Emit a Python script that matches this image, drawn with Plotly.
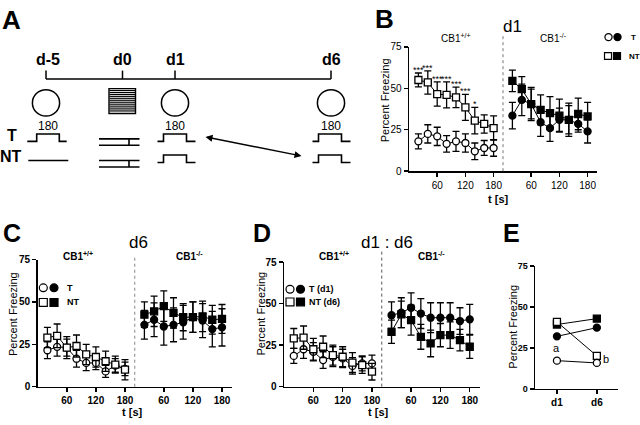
import plotly.graph_objects as go

W, H = 640, 425
FONT = "Liberation Sans, Arial, Helvetica, sans-serif"

# ---------------- data ----------------
t_s = [20, 40, 60, 80, 100, 120, 140, 160, 180]
KO_OFFSET = 200
x_tickvals = [60, 120, 180, 260, 320, 380]
x_ticktext = ["60", "120", "180", "60", "120", "180"]
y_tickvals = [0, 25, 50, 75]
y_ticktext = ["0", "25", "50", "75"]

# Panel B (d1)
B_WT_T = [18, 22.5, 21, 16.5, 18, 17, 12, 14, 14]
B_WT_T_err = [4.5, 5.5, 5.5, 5, 6, 5.5, 5, 4.5, 5]
B_WT_NT = [55, 53.5, 46.5, 46, 44.5, 38.5, 30.5, 28.5, 26]
B_WT_NT_err = [4.2, 7, 7.3, 7.8, 6.2, 7.8, 8, 5.5, 7.3]
B_KO_T = [33.5, 43, 40.5, 29.5, 26, 31, 31, 28.5, 24]
B_KO_T_err = [8, 9.5, 9, 8.5, 8, 7, 8.5, 5, 7]
B_KO_NT = [54.5, 49.5, 40.5, 37, 35, 33.5, 31, 34.5, 33]
B_KO_NT_err = [6.5, 7.5, 10, 9, 10, 10, 10, 9.5, 8.5]
B_stars = ["***", "***", "***", "***", "***", "***", "*", "", ""]

# Panel C (d6)
C_WT_T = [21.5, 23.5, 23, 16.5, 14, 14, 9, 12.5, 10.5]
C_WT_T_err = [5, 5.5, 5, 5, 4.5, 4, 3.5, 4, 4]
C_WT_NT = [29, 30, 23, 24, 19, 17.5, 15, 13, 10]
C_WT_NT_err = [6, 7, 6.5, 6.5, 6, 6, 6, 5, 6]
C_KO_T = [36.5, 39.5, 35.5, 36.5, 38, 41, 39, 34, 35]
C_KO_T_err = [8.5, 10, 11, 10, 10, 9, 10, 10.5, 11]
C_KO_NT = [42.5, 44.5, 47.5, 43.5, 41, 41, 41.5, 39.5, 40]
C_KO_NT_err = [7.5, 9, 9, 9, 8, 9, 9, 8.5, 8.5]

# Panel D (d1 : d6)
D_WT_T = [18.5, 22.5, 21, 16, 18, 17, 12.5, 14, 14]
D_WT_T_err = [4.5, 5.5, 5.5, 5, 6, 5.5, 5, 4.5, 5]
D_WT_NT = [29, 29.5, 22.5, 24, 19, 18, 14.5, 13, 9]
D_WT_NT_err = [6, 7, 6.5, 6.5, 6, 6, 6, 5, 5]
D_KO_T = [43, 44.5, 47.5, 44, 41.5, 41.5, 41.5, 39.5, 40.5]
D_KO_T_err = [8, 9, 9, 9, 9, 9, 9, 8, 9]
D_KO_NT = [33, 43.5, 40, 30, 26, 31, 31, 28, 24]
D_KO_NT_err = [7, 8, 9, 7.5, 8, 7, 8, 6.5, 7]

# Panel E
E_days = ["d1", "d6"]
E_WT_T = [17.2, 15.8]
E_WT_NT = [40.8, 20.1]
E_KO_T = [32, 37.3]
E_KO_NT = [39.2, 42.8]


# ---------------- helpers ----------------
def fx(p):
    return p / W


def fy(p):
    return 1 - p / H


fig = go.Figure()
shapes = []
annotations = []


def add_series(ax, x, y, err, symbol, filled):
    fig.add_trace(go.Scatter(
        x=x, y=y, xaxis="x" + ax, yaxis="y" + ax, mode="lines+markers",
        line=dict(color="black", width=1),
        marker=dict(symbol=symbol, size=7, color="black" if filled else "white",
                    line=dict(color="black", width=1.3)),
        error_y=dict(type="data", array=err, visible=True, color="black",
                     thickness=1.3, width=3.5) if err is not None else None,
        showlegend=False, hoverinfo="skip", cliponaxis=False))


def ko(ts):
    return [t + KO_OFFSET for t in ts]


def ptext(x, y, text, size, bold=False, xanchor="center", angle=0, yanchor="middle"):
    annotations.append(dict(
        x=fx(x), y=fy(y), xref="paper", yref="paper", text=("<b>%s</b>" % text) if bold else text,
        showarrow=False, xanchor=xanchor, yanchor=yanchor, textangle=angle, borderpad=0,
        font=dict(family=FONT, size=size, color="black")))


def pline(x0, y0, x1, y1, w=1.5, color="black", dash=None):
    ln = dict(color=color, width=w)
    if dash:
        ln["dash"] = dash
    shapes.append(dict(type="line", xref="paper", yref="paper",
                       x0=fx(x0), y0=fy(y0), x1=fx(x1), y1=fy(y1), line=ln))


def ppath(points, w=1.5):
    path = "M " + " L ".join("%f,%f" % (fx(x), fy(y)) for x, y in points)
    shapes.append(dict(type="path", xref="paper", yref="paper", path=path,
                       line=dict(color="black", width=w)))


def pcircle(cx, cy, r, filled=False, w=1.5):
    shapes.append(dict(type="circle", xref="paper", yref="paper",
                       x0=fx(cx - r), x1=fx(cx + r), y0=fy(cy + r), y1=fy(cy - r),
                       line=dict(color="black", width=w),
                       fillcolor="black" if filled else "white"))


def prect(x0, y0, x1, y1, filled=False, w=1.2):
    shapes.append(dict(type="rect", xref="paper", yref="paper",
                       x0=fx(x0), x1=fx(x1), y0=fy(y1), y1=fy(y0),
                       line=dict(color="black", width=w),
                       fillcolor="black" if filled else "white"))


def pulse(cx, base, top, w=1.6):
    ppath([(cx - 18, base), (cx - 12, base), (cx - 12, top), (cx + 11, top),
           (cx + 11, base), (cx + 20, base)], w)


# ---------------- panel A (schematic) ----------------
ptext(11, 14, "A", 26, bold=True)
pline(46, 75, 331, 75, 1.5)
for xx, lab in [(46, "d-5"), (122.5, "d0"), (175, "d1"), (331, "d6")]:
    pline(xx, 66.5, xx, 75, 1.5)
    ptext(xx + (2 if lab == "d-5" else 0), 55, lab, 16, bold=True)
for xx in [46, 175, 331]:
    pcircle(xx, 99.7, 13.6)
    ptext(xx + 2 if xx == 46 else xx, 123, "180", 12)
# shock box with stripes
prect(109, 85, 135.5, 110.7, w=1.4)
yy = 87.0
while yy < 110:
    pline(109.5, yy, 135, yy, 1.2)
    yy += 2.1
ptext(11.5, 133.5, "T", 16, bold=True)
ptext(11, 155, "NT", 16, bold=True)
# T row
ppath([(27.3, 139.3), (36.7, 139.3), (36.7, 131.7), (59.3, 131.7), (59.3, 139.3), (66.7, 139.3)], 1.6)
pulse(175.5, 139.3, 131.7)
pulse(330.5, 139.3, 131.7)
# NT row
pline(28.3, 159, 68.3, 159, 1.6)
pulse(175.5, 161, 153.3)
pulse(330.5, 161, 153.3)
# shocks
for y1, y2 in [(136.7, 143.3), (159, 165.7)]:
    pline(99, y1, 139.5, y1, 1.6)
    pline(99, y2, 139.5, y2, 1.6)
    pline(129, y1, 129, y2, 1.6)
# double arrow
annotations.append(dict(x=fx(301.5), y=fy(154.3), xref="paper", yref="paper", text="",
                        showarrow=True, ax=204 - 301.5, ay=135 - 154.3,
                        arrowhead=2, startarrowhead=2, arrowside="end+start",
                        arrowsize=1, arrowwidth=1.4, arrowcolor="black"))

# ---------------- axes definitions ----------------
def axis_common(bold):
    return dict(showline=True, linecolor="black", linewidth=1.5, ticks="outside",
                ticklen=4, tickwidth=1.5, tickcolor="black", showgrid=False,
                zeroline=False, fixedrange=True,
                tickfont=dict(family=FONT, size=10, color="black"))


def btxt(lst, bold):
    return ["<b>%s</b>" % s if bold else s for s in lst]


panels = {
    "": dict(x=(409, 597), y=(170, 42), bold=False),
    "2": dict(x=(37.7, 231.7), y=(391.7, 261), bold=True),
    "3": dict(x=(284, 479.5), y=(391.7, 263.5), bold=True),
}
layout_axes = {}
for key, p in panels.items():
    xa = axis_common(p["bold"])
    xa.update(domain=[fx(p["x"][0]), fx(p["x"][1])], range=[0, 400],
              tickvals=x_tickvals, ticktext=btxt(x_ticktext, p["bold"]),
              anchor="y" + key)
    ya = axis_common(p["bold"])
    ya.update(domain=[fy(p["y"][0]), fy(p["y"][1])], range=[0, 75],
              tickvals=y_tickvals, ticktext=btxt(y_ticktext, p["bold"]),
              anchor="x" + key)
    layout_axes["xaxis" + key] = xa
    layout_axes["yaxis" + key] = ya

xa = axis_common(True)
xa.update(domain=[fx(535), fx(618)], type="category", range=[-0.55, 1.53],
          tickvals=E_days, ticktext=btxt(E_days, True), anchor="y4")
ya = axis_common(True)
ya.update(domain=[fy(394), fy(267.3)], range=[0, 75], tickvals=y_tickvals,
          ticktext=btxt(y_ticktext, True), anchor="x4",
          tickfont=dict(family=FONT, size=9, color="black"))
layout_axes["xaxis4"] = xa
layout_axes["yaxis4"] = ya

# ---------------- panel B ----------------
add_series("", t_s, B_WT_T, B_WT_T_err, "circle", False)
add_series("", t_s, B_WT_NT, B_WT_NT_err, "square", False)
add_series("", ko(t_s), B_KO_T, B_KO_T_err, "circle", True)
add_series("", ko(t_s), B_KO_NT, B_KO_NT_err, "square", True)
for i, s in enumerate(B_stars):
    if s:
        annotations.append(dict(x=t_s[i], y=B_WT_NT[i] + B_WT_NT_err[i], xref="x", yref="y",
                                text=s, showarrow=False, yanchor="bottom", yshift=-3,
                                borderpad=0,
                                font=dict(family=FONT, size=9, color="black")))
shapes.append(dict(type="line", xref="x", yref="paper", x0=KO_OFFSET, x1=KO_OFFSET,
                   y0=fy(170), y1=fy(28), line=dict(color="#777", width=1, dash="dot")))
ptext(384, 13, "B", 26, bold=True)
ptext(512, 21, "d1", 17)
ptext(456, 33, "CB1<sup>+/+</sup>", 10)
ptext(553, 33, "CB1<sup>-/-</sup>", 10)
ptext(385, 97, "Percent Freezing", 11, angle=-90)
ptext(498, 199, "t [s]", 11, bold=True)
pcircle(608.5, 32, 3.6, False, 1.2)
pcircle(617.5, 32, 3.6, True, 1.2)
ptext(630, 32, "T", 8, bold=True, xanchor="left")
prect(604.5, 48, 611.5, 55, False)
prect(613.5, 48, 620.5, 55, True)
ptext(628, 51.5, "NT", 8, bold=True, xanchor="left")

# ---------------- panel C ----------------
add_series("2", t_s, C_WT_T, C_WT_T_err, "circle", False)
add_series("2", t_s, C_WT_NT, C_WT_NT_err, "square", False)
add_series("2", ko(t_s), C_KO_T, C_KO_T_err, "circle", True)
add_series("2", ko(t_s), C_KO_NT, C_KO_NT_err, "square", True)
shapes.append(dict(type="line", xref="x2", yref="paper", x0=KO_OFFSET, x1=KO_OFFSET,
                   y0=fy(391.7), y1=fy(259), line=dict(color="#999", width=1.2, dash="dot")))
ptext(12, 234, "C", 25, bold=True)
ptext(138, 243, "d6", 17)
ptext(78, 257, "CB1<sup>+/+</sup>", 10, bold=True)
ptext(189, 257, "CB1<sup>-/-</sup>", 10, bold=True)
ptext(13, 317, "Percent Freezing", 11, angle=-90)
ptext(132, 418, "t [s]", 11, bold=True)
pcircle(43.3, 290, 4, False, 1.2)
pcircle(54, 290, 4, True, 1.2)
ptext(66, 290, "T", 9, bold=True, xanchor="left")
prect(39.3, 301, 47.3, 309, False)
prect(50, 301, 58, 309, True)
ptext(66, 305, "NT", 9, bold=True, xanchor="left")

# ---------------- panel D ----------------
add_series("3", t_s, D_WT_T, D_WT_T_err, "circle", False)
add_series("3", t_s, D_WT_NT, D_WT_NT_err, "square", False)
add_series("3", ko(t_s), D_KO_T, D_KO_T_err, "circle", True)
add_series("3", ko(t_s), D_KO_NT, D_KO_NT_err, "square", True)
shapes.append(dict(type="line", xref="x3", yref="paper", x0=KO_OFFSET, x1=KO_OFFSET,
                   y0=fy(391.7), y1=fy(251), line=dict(color="#555", width=1, dash="dot")))
ptext(262, 234, "D", 25, bold=True)
ptext(387, 243, "d1 : d6", 17)
ptext(334, 257, "CB1<sup>+/+</sup>", 10, bold=True)
ptext(431, 257, "CB1<sup>-/-</sup>", 10, bold=True)
ptext(261.5, 317, "Percent Freezing", 11, angle=-90)
ptext(378, 418, "t [s]", 11, bold=True)
pcircle(290, 291.5, 4, False, 1.2)
pcircle(300.5, 291.5, 4, True, 1.2)
ptext(307.5, 291.5, "T (d1)", 9, bold=True, xanchor="left")
prect(286, 300.5, 294, 308.5, False)
prect(296.5, 300.5, 304.5, 308.5, True)
ptext(307.5, 304.5, "NT (d6)", 9, bold=True, xanchor="left")

# ---------------- panel E ----------------
add_series("4", E_days, E_KO_NT, None, "square", True)
add_series("4", E_days, E_KO_T, None, "circle", True)
add_series("4", E_days, E_WT_NT, None, "square", False)
add_series("4", E_days, E_WT_T, None, "circle", False)
annotations.append(dict(x=E_days[0], y=E_WT_T[0], xref="x4", yref="y4", text="a",
                        showarrow=False, yshift=13, borderpad=0,
                        font=dict(family=FONT, size=11, color="black")))
annotations.append(dict(x=E_days[1], y=E_WT_T[1], xref="x4", yref="y4", text="b",
                        showarrow=False, xshift=9, yshift=4, borderpad=0,
                        font=dict(family=FONT, size=11, color="black")))
ptext(511, 234, "E", 25, bold=True)
ptext(513, 330, "Percent Freezing", 11, angle=-90)

fig.update_layout(
    width=W, height=H, margin=dict(l=0, r=0, t=0, b=0),
    paper_bgcolor="white", plot_bgcolor="white", showlegend=False,
    font=dict(family=FONT, color="black"),
    shapes=shapes, annotations=annotations, **layout_axes)

fig.write_html("out.html", config={"displayModeBar": False, "staticPlot": True},
               post_script="document.body.style.margin='0px';document.body.style.padding='0px';"
                           "document.body.style.overflow='hidden';")
